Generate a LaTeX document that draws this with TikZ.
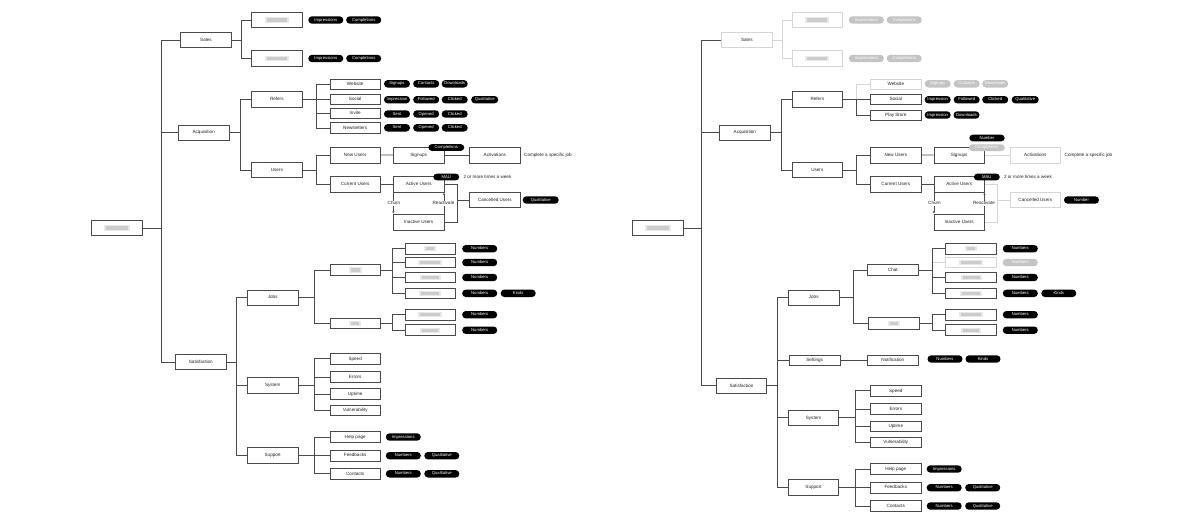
\documentclass[tikz,border=0pt]{standalone}
\usepackage{fontspec}
\setmainfont{Liberation Sans}
\usetikzlibrary{arrows.meta}
\definecolor{dk}{HTML}{4A4A4A}
\definecolor{lt}{HTML}{D6D6D6}
\definecolor{pl}{HTML}{C4C4C4}
\definecolor{tx}{HTML}{222222}
\tikzset{
  base/.style={font=\fontsize{4.6}{5}\selectfont, inner sep=0pt, text=tx},
  box/.style={base, draw=dk, line width=0.75pt, minimum width=50.6pt, minimum height=15.4pt, text height=3.3pt, text depth=0.9pt},
  sbox/.style={box, minimum height=10.7pt},
  fbox/.style={draw=lt},
  pill/.style={base, fill=black, text=white, rounded corners=3.6pt, minimum height=7.4pt, minimum width=35pt, font=\fontsize{4.2}{5}\selectfont, text height=3.0pt, text depth=0.8pt},
  spill/.style={pill, minimum width=26pt},
  fpill/.style={fill=pl},
  conn/.style={draw=dk, line width=0.75pt},
  fconn/.style={draw=lt, line width=0.75pt},
  lbl/.style={base},
  tip/.style={-{Latex[length=2.4pt,width=2.2pt]}},
  redact/.style={path picture={
    \fill[black!9] ([shift={({-0.5*#1pt-2pt},-2.6pt)}]path picture bounding box.center) rectangle ([shift={({0.5*#1pt+2pt},2.6pt)}]path picture bounding box.center);
    \fill[black!20] ([shift={({-0.5*#1pt},-1.6pt)}]path picture bounding box.center) rectangle ([shift={({0.5*#1pt},1.6pt)}]path picture bounding box.center);}},
}
\begin{document}
\begin{tikzpicture}[x=1pt,y=-1pt]
\fill[white] (0,0) rectangle (1204,522);
\useasboundingbox (0,0) rectangle (1204,522);

%%%%%%%%%%%%%%%% LEFT DIAGRAM %%%%%%%%%%%%%%%%
\node[box,redact=22] (root) at (117,228) {};
\node[box] (sales) at (206,40) {Sales};
\node[box] (acq) at (203.7,132.7) {Acquisition};
\node[box] (sat) at (200.8,362) {Satisfaction};
\foreach \n in {sales,acq,sat} \draw[conn] (root.east) -- ++(18.3,0) |- (\n.west);

% Sales
\node[box,redact=20] (s1) at (276.8,20) {};
\node[box,redact=20] (s2) at (276.8,58.5) {};
\foreach \n in {s1,s2} \draw[conn] (sales.east) -- ++(10,0) |- (\n.west);
\node[pill] (s1a) at (325.8,20) {Impressions};
\node[pill] (s1b) at (363.7,20) {Completions};
\node[pill] (s2a) at (325.8,58.5) {Impressions};
\node[pill] (s2b) at (363.7,58.5) {Completions};

% Acquisition
\node[box] (ref) at (276.8,99.5) {Refers};
\node[box] (usr) at (276.8,170) {Users};
\foreach \n in {ref,usr} \draw[conn] (acq.east) -- ++(11,0) |- (\n.west);

\node[sbox] (web) at (355.2,84.3) {Website};
\node[sbox] (soc) at (355.2,99.5) {Social};
\node[sbox] (inv) at (355.2,113.3) {Invite};
\node[sbox] (nl) at (355.2,128.2) {Newsletters};
\foreach \n in {web,soc,inv,nl} \draw[conn] (ref.east) -- ++(13.7,0) |- (\n.west);

\node[spill] (weba) at (397,83.8) {Signups};
\node[spill] (webb) at (426.2,83.8) {Contacts};
\node[spill] (webc) at (454.7,83.8) {Downloads};
\node[spill] (soca) at (397,99.7) {Impression};
\node[spill] (socb) at (426.2,99.7) {Followed};
\node[spill] (socc) at (454.7,99.7) {Clicked};
\node[spill,minimum width=27pt] (socd) at (484.7,99.7) {Qualitative};
\node[spill] (inva) at (397,114) {Sent};
\node[spill] (invb) at (426.2,114) {Opened};
\node[spill] (invc) at (454.7,114) {Clicked};
\node[spill] (nla) at (397,127.8) {Sent};
\node[spill] (nlb) at (426.2,127.8) {Opened};
\node[spill] (nlc) at (454.7,127.8) {Clicked};

\node[box,minimum height=16pt] (nu) at (355.2,155.2) {New Users};
\node[box,minimum height=16pt] (cu) at (355.2,184.2) {Current Users};
\foreach \n in {nu,cu} \draw[conn] (usr.east) -- ++(13.7,0) |- (\n.west);
\node[box,minimum height=16pt] (sig) at (418.7,155) {Signups};
\node[box,minimum height=16pt] (act) at (494.8,155) {Activations};
\draw[conn] (nu) -- (sig);
\draw[conn] (sig) -- (act);
\node[pill,minimum width=36pt,minimum height=6.8pt] (comp) at (446.3,147.5) {Completions};
\node[lbl,anchor=west] (cj) at (524,155) {Complete a specific job};

\node[box,minimum height=16pt] (au) at (418.7,184.2) {Active Users};
\node[box,minimum height=16pt] (iu) at (418.7,222.2) {Inactive Users};
\draw[conn] (cu) -- (au);
\node[spill,minimum height=6.8pt] (mau) at (446.3,177) {MAU};
\node[lbl,anchor=west] (tw) at (463.3,177) {2 or more times a week};
\draw[conn,tip] ([xshift=0.4pt]au.south west) -- ([xshift=0.4pt]iu.north west);
\draw[conn,tip] ([xshift=-0.4pt]iu.north east) -- ([xshift=-0.4pt]au.south east);
\node[lbl,fill=white,inner sep=0.8pt] (churn) at (394,203.3) {Churn};
\node[lbl,fill=white,inner sep=0.8pt] (rea) at (443.5,203.3) {Reactivate};
\draw[conn] (au.east) -- ++(12.5,0) |- (iu.east);
\node[box] (can) at (494.8,200) {Cancelled Users};
\draw[conn] (can.west) -- ++(-12.1,0);
\node[pill,minimum width=36pt] (canq) at (540.7,200) {Qualitative};

% Satisfaction
\node[box] (jobs) at (272.7,297.7) {Jobs};
\node[box] (sys) at (272.7,385.5) {System};
\node[box] (sup) at (272.7,455.3) {Support};
\foreach \n in {jobs,sys,sup} \draw[conn] (sat.east) -- ++(10.3,0) |- (\n.west);

\node[sbox,redact=9] (j1) at (355.2,270) {};
\node[sbox,redact=8] (j2) at (355.2,323.3) {};
\foreach \n in {j1,j2} \draw[conn] (jobs.east) -- ++(15.7,0) |- (\n.west);

\node[sbox,redact=8] (ga) at (430.3,248.7) {};
\node[sbox,redact=20] (gb) at (430.3,262.5) {};
\node[sbox,redact=17] (gc) at (430.3,277.5) {};
\node[sbox,redact=18] (gd) at (430.3,293.3) {};
\node[sbox,redact=20] (ge) at (430.3,314.7) {};
\node[sbox,redact=16] (gf) at (430.3,330.2) {};
\foreach \n in {ga,gb,gc,gd} \draw[conn] (j1.east) -- ++(11.7,0) |- (\n.west);
\foreach \n in {ge,gf} \draw[conn] (j2.east) -- ++(11.7,0) |- (\n.west);
\node[pill] (gap) at (479.7,248.7) {Numbers};
\node[pill] (gbp) at (479.7,262.5) {Numbers};
\node[pill] (gcp) at (479.7,277.5) {Numbers};
\node[pill] (gdp) at (479.7,293.3) {Numbers};
\node[pill] (gdk) at (518.2,293.3) {Kinds};
\node[pill] (gep) at (479.7,314.7) {Numbers};
\node[pill] (gfp) at (479.7,330.2) {Numbers};

\node[sbox] (sp) at (355.2,358.8) {Speed};
\node[sbox] (er) at (355.2,377) {Errors};
\node[sbox] (up) at (355.2,394.2) {Uptime};
\node[sbox] (vu) at (355.2,410.3) {Vulnerability};
\foreach \n in {sp,er,up,vu} \draw[conn] (sys.east) -- ++(15.7,0) |- (\n.west);

\node[sbox] (hp) at (355.2,437) {Help page};
\node[sbox] (fb) at (355.2,455.7) {Feedbacks};
\node[sbox] (ct) at (355.2,473.8) {Contacts};
\foreach \n in {hp,fb,ct} \draw[conn] (sup.east) -- ++(15.7,0) |- (\n.west);
\node[pill] (hpa) at (403.3,437) {Impressions};
\node[pill] (fba) at (403.3,455.7) {Numbers};
\node[pill] (fbb) at (441.8,455.7) {Qualitative};
\node[pill] (cta) at (403.3,473.8) {Numbers};
\node[pill] (ctb) at (441.8,473.8) {Qualitative};

%%%%%%%%%%%%%%%% RIGHT DIAGRAM %%%%%%%%%%%%%%%%
\begin{scope}[xshift=540.5]
\node[box,redact=22] (rootR) at (117.3,228) {};
\node[box,fbox] (salesR) at (206.3,40) {Sales};
\node[box] (acqR) at (204.3,132.7) {Acquisition};
\node[box] (satR) at (201,385.8) {Satisfaction};
\foreach \n in {salesR,acqR,satR} \draw[conn] (rootR.east) -- ++(18.2,0) |- (\n.west);

% Sales (faded)
\node[box,fbox,redact=20] (s1R) at (276.8,20) {};
\node[box,fbox,redact=20] (s2R) at (276.8,58.5) {};
\foreach \n in {s1R,s2R} \draw[fconn] (salesR.east) -- ++(10,0) |- (\n.west);
\node[pill,fpill] (s1aR) at (325.8,20) {Impressions};
\node[pill,fpill] (s1bR) at (363.7,20) {Completions};
\node[pill,fpill] (s2aR) at (325.8,58.5) {Impressions};
\node[pill,fpill] (s2bR) at (363.7,58.5) {Completions};

% Acquisition
\node[box] (refR) at (276.8,99.5) {Refers};
\node[box] (usrR) at (276.8,170) {Users};
\foreach \n in {refR,usrR} \draw[conn] (acqR.east) -- ++(11,0) |- (\n.west);

\node[sbox,fbox] (webR) at (355.3,84.3) {Website};
\node[sbox] (socR) at (355.3,99.5) {Social};
\node[sbox] (psR) at (355.3,115.3) {Play Store};
\draw[fconn] (refR.east) -- ++(13.7,0) |- (webR.west);
\foreach \n in {socR,psR} \draw[conn] (refR.east) -- ++(13.7,0) |- (\n.west);

\node[spill,fpill] (webaR) at (397.2,83.8) {Signups};
\node[spill,fpill] (webbR) at (426.2,83.8) {Contacts};
\node[spill,fpill] (webcR) at (454.7,83.8) {Downloads};
\node[spill] (socaR) at (397.2,99.7) {Impression};
\node[spill] (socbR) at (426.2,99.7) {Followed};
\node[spill] (soccR) at (454.7,99.7) {Clicked};
\node[spill,minimum width=27pt] (socdR) at (484.7,99.7) {Qualitative};
\node[spill] (psaR) at (397.2,115) {Impression};
\node[spill] (psbR) at (426,115) {Downloads};

\node[box,minimum height=16pt] (nuR) at (355.3,155.2) {New Users};
\node[box,minimum height=16pt] (cuR) at (355.3,184.2) {Current Users};
\foreach \n in {nuR,cuR} \draw[conn] (usrR.east) -- ++(13.7,0) |- (\n.west);
\node[box,minimum height=16pt] (sigR) at (418.7,155) {Signups};
\node[box,fbox,minimum height=16pt] (actR) at (494.8,155) {Activations};
\draw[conn] (nuR) -- (sigR);
\draw[fconn] (sigR) -- (actR);
\node[pill,fpill,minimum width=36pt,minimum height=6.8pt] (compR) at (446.3,147.7) {Completions};
\node[pill,minimum width=35.5pt,minimum height=6.8pt] (numR) at (446.5,138) {Number};
\node[lbl,anchor=west] (cjR) at (524,155) {Complete a specific job};

\node[box,minimum height=16pt] (auR) at (418.7,184.2) {Active Users};
\node[box,minimum height=16pt] (iuR) at (418.7,222.2) {Inactive Users};
\draw[conn] (cuR) -- (auR);
\node[spill,minimum height=6.8pt] (mauR) at (446.3,177) {MAU};
\node[lbl,anchor=west] (twR) at (463.3,177) {2 or more times a week};
\draw[conn,tip] ([xshift=0.4pt]auR.south west) -- ([xshift=0.4pt]iuR.north west);
\draw[conn,tip] ([xshift=-0.4pt]iuR.north east) -- ([xshift=-0.4pt]auR.south east);
\node[lbl,fill=white,inner sep=0.8pt] (churnR) at (394,203.3) {Churn};
\node[lbl,fill=white,inner sep=0.8pt] (reaR) at (443.5,203.3) {Reactivate};
\draw[fconn] (auR.east) -- ++(12.1,0) |- (iuR.east);
\node[box,fbox] (canR) at (494.8,200) {Cancelled Users};
\draw[fconn] (canR.west) -- ++(-12.5,0);
\node[pill] (canqR) at (541,200) {Number};

% Satisfaction
\node[box] (jobsR) at (273.2,297.7) {Jobs};
\node[sbox] (setR) at (274.2,360.3) {Settings};
\node[box] (sysR) at (273,417.8) {System};
\node[box] (supR) at (273,487.5) {Support};
\foreach \n in {jobsR,setR,sysR,supR} \draw[conn] (satR.east) -- ++(10.6,0) |- (\n.west);

\node[sbox,minimum height=11.4pt] (chatR) at (352.3,270) {Chat};
\node[sbox,minimum height=11.3pt,redact=8] (j2R) at (353.3,323.3) {};
\foreach \n in {chatR,j2R} \draw[conn] (jobsR.east) -- ++(13.9,0) |- (\n.west);

\node[sbox] (notR) at (352.3,360.3) {Notification};
\draw[conn] (setR) -- (notR);
\node[pill] (notaR) at (404.5,359) {Numbers};
\node[pill] (notbR) at (442.5,359) {Kinds};

\node[sbox,redact=8] (gaR) at (430.5,248.7) {};
\node[sbox,fbox,redact=20] (gbR) at (430.5,262.5) {};
\node[sbox,redact=17] (gcR) at (430.5,277.5) {};
\node[sbox,redact=18] (gdR) at (430.5,293.3) {};
\node[sbox,redact=20] (geR) at (430.5,314.7) {};
\node[sbox,redact=16] (gfR) at (430.5,330.2) {};
\draw[fconn] (chatR.east) -- ++(13.6,0) |- (gbR.west);
\foreach \n in {gaR,gcR,gdR} \draw[conn] (chatR.east) -- ++(13.6,0) |- (\n.west);
\foreach \n in {geR,gfR} \draw[conn] (j2R.east) -- ++(12.6,0) |- (\n.west);
\node[pill] (gapR) at (479.8,248.7) {Numbers};
\node[pill,fpill] (gbpR) at (479.8,262.5) {Numbers};
\node[pill] (gcpR) at (479.8,277.5) {Numbers};
\node[pill] (gdpR) at (479.8,293.3) {Numbers};
\node[pill] (gdkR) at (518.3,293.3) {Kinds};
\node[pill] (gepR) at (479.8,314.7) {Numbers};
\node[pill] (gfpR) at (479.8,330.2) {Numbers};

\node[sbox] (spR) at (355.3,390.8) {Speed};
\node[sbox] (erR) at (355.3,409) {Errors};
\node[sbox] (upR) at (355.3,426.3) {Uptime};
\node[sbox] (vuR) at (355.3,442.5) {Vulnerability};
\foreach \n in {spR,erR,upR,vuR} \draw[conn] (sysR.east) -- ++(16.2,0) |- (\n.west);

\node[sbox] (hpR) at (355.3,469) {Help page};
\node[sbox] (fbR) at (355.3,487.7) {Feedbacks};
\node[sbox] (ctR) at (355.3,506) {Contacts};
\foreach \n in {hpR,fbR,ctR} \draw[conn] (supR.east) -- ++(16.2,0) |- (\n.west);
\node[pill] (hpaR) at (403.7,469) {Impressions};
\node[pill] (fbaR) at (403.7,487.7) {Numbers};
\node[pill] (fbbR) at (442.2,487.7) {Qualitative};
\node[pill] (ctaR) at (403.7,506) {Numbers};
\node[pill] (ctbR) at (442.2,506) {Qualitative};
\end{scope}
\end{tikzpicture}
\end{document}
